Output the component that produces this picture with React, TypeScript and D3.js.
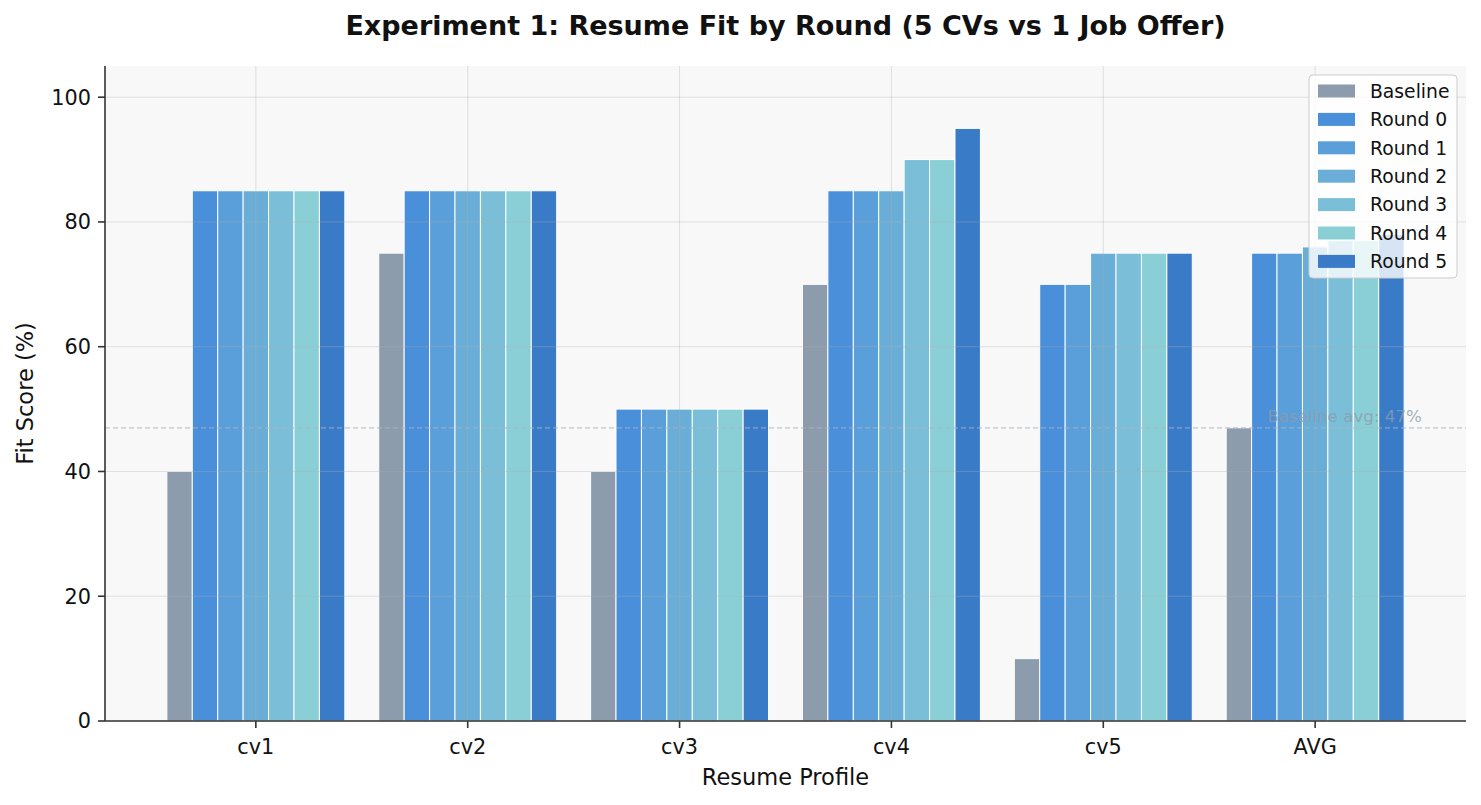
import React from "react";
import * as d3 from "d3";

// Resume fit scores (%) per profile
const categories = ["cv1", "cv2", "cv3", "cv4", "cv5"];
const baseline = [40, 75, 40, 70, 10];
const round0 = [85, 85, 50, 85, 70];
const round1 = [85, 85, 50, 85, 70];
const round2 = [85, 85, 50, 85, 75];
const round3 = [85, 85, 50, 90, 75];
const round4 = [85, 85, 50, 90, 75];
const round5 = [85, 85, 50, 95, 75];

const seriesNames = ["Baseline", "Round 0", "Round 1", "Round 2", "Round 3", "Round 4", "Round 5"];
const seriesColors = ["#8D9CAD", "#4A8FD9", "#5A9FD9", "#6AAED7", "#7ABFD7", "#8ACFD6", "#3A7BC8"];
const yTicks = [0, 20, 40, 60, 80, 100];

const rawSeries = [baseline, round0, round1, round2, round3, round4, round5];
const mean = (a: number[]) => d3.mean(a) as number;
// Each series gets an AVG entry appended
const series = rawSeries.map((s) => [...s, mean(s)]);
const groups = [...categories, "AVG"];
const baselineAvg = Math.round(mean(baseline));

const W = 1481;
const H = 805;
const left = 105;
const right = 1466;
const top = 66;
const bottom = 721;
const barW = 0.12;

export default function App() {
  const x = d3.scaleLinear().domain([-0.712, groups.length - 1 + 0.712]).range([left, right]);
  const y = d3.scaleLinear().domain([0, 105]).range([bottom, top]);
  const n = series.length;
  const font = "'DejaVu Sans', sans-serif";

  return (
    <svg width={W} height={H} style={{ position: "absolute", left: 0, top: 0 }} fontFamily={font}>
      <rect x={0} y={0} width={W} height={H} fill="#ffffff" />
      <rect x={left} y={top} width={right - left} height={bottom - top} fill="#F8F8F8" />

      {/* bars */}
      {series.map((vals, si) =>
        vals.map((v, gi) => {
          const x0 = x(gi + (si - (n - 1) / 2) * barW - barW / 2);
          const x1 = x(gi + (si - (n - 1) / 2) * barW + barW / 2);
          return (
            <rect
              key={`${si}-${gi}`}
              x={x0}
              y={y(v)}
              width={x1 - x0}
              height={y(0) - y(v)}
              fill={seriesColors[si]}
              stroke="#ffffff"
              strokeWidth={1}
            />
          );
        })
      )}

      {/* grid */}
      {yTicks.map((t) => (
        <line key={`gy${t}`} x1={left} x2={right} y1={y(t)} y2={y(t)} stroke="#b0b0b0" strokeOpacity={0.35} strokeWidth={1} />
      ))}
      {groups.map((g, i) => (
        <line key={`gx${g}`} x1={x(i)} x2={x(i)} y1={top} y2={bottom} stroke="#b0b0b0" strokeOpacity={0.35} strokeWidth={1} />
      ))}

      {/* baseline average reference */}
      <line
        x1={left}
        x2={right}
        y1={y(baselineAvg)}
        y2={y(baselineAvg)}
        stroke="#A9B4C0"
        strokeOpacity={0.7}
        strokeWidth={1.2}
        strokeDasharray="5,3"
      />
      <text x={x(groups.length - 1) - 48} y={y(baselineAvg) - 6} fontSize={16.7} fill="#8D9CAD" fillOpacity={0.8}>
        {`Baseline avg: ${baselineAvg}%`}
      </text>

      {/* spines */}
      <line x1={left} x2={left} y1={top} y2={bottom} stroke="#333333" strokeWidth={1.6} />
      <line x1={left} x2={right} y1={bottom} y2={bottom} stroke="#333333" strokeWidth={1.6} />

      {/* y axis */}
      {yTicks.map((t) => (
        <g key={`yt${t}`}>
          <line x1={left - 7} x2={left} y1={y(t)} y2={y(t)} stroke="#333333" strokeWidth={1.6} />
          <text x={left - 14} y={y(t)} dy="0.36em" textAnchor="end" fontSize={20.8} fill="#111">
            {t}
          </text>
        </g>
      ))}
      <text
        transform={`translate(33,${(top + bottom) / 2}) rotate(-90)`}
        textAnchor="middle"
        fontSize={22.5}
        fill="#111"
      >
        Fit Score (%)
      </text>

      {/* x axis */}
      {groups.map((g, i) => (
        <g key={`xt${g}`}>
          <line x1={x(i)} x2={x(i)} y1={bottom} y2={bottom + 7} stroke="#333333" strokeWidth={1.6} />
          <text x={x(i)} y={bottom + 33} textAnchor="middle" fontSize={20.8} fill="#111">
            {g}
          </text>
        </g>
      ))}
      <text x={(left + right) / 2} y={785} textAnchor="middle" fontSize={22.5} fill="#111">
        Resume Profile
      </text>

      {/* title */}
      <text x={(left + right) / 2} y={35} textAnchor="middle" fontSize={27} fontWeight="bold" fill="#111">
        Experiment 1: Resume Fit by Round (5 CVs vs 1 Job Offer)
      </text>

      {/* legend */}
      <g>
        <rect x={1309} y={75} width={148} height={203} rx={4} fill="#ffffff" fillOpacity={0.8} stroke="#cccccc" strokeWidth={1} />
        {seriesNames.map((name, i) => {
          const cy = 91 + i * 28.4;
          return (
            <g key={name}>
              <rect x={1318} y={cy - 6.5} width={37} height={13} fill={seriesColors[i]} />
              <text x={1370} y={cy} dy="0.36em" fontSize={18.75} fill="#111">
                {name}
              </text>
            </g>
          );
        })}
      </g>
    </svg>
  );
}
